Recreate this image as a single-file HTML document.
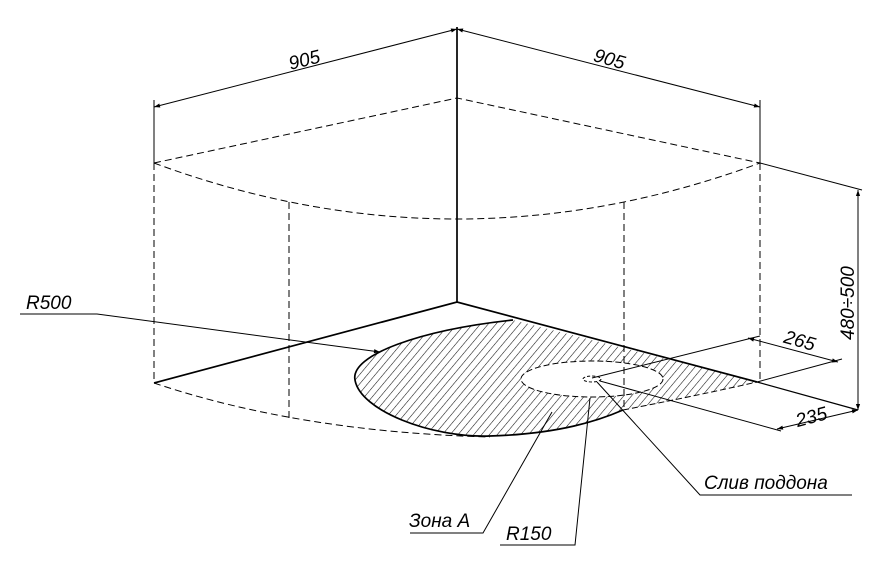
<!DOCTYPE html>
<html><head><meta charset="utf-8"><style>html,body{margin:0;padding:0;background:#fff}svg{display:block}</style></head><body>
<svg width="895" height="571" viewBox="0 0 895 571" xmlns="http://www.w3.org/2000/svg" font-family="Liberation Sans, sans-serif" font-style="italic">
<defs>
<pattern id="h" width="6" height="6" patternUnits="userSpaceOnUse" patternTransform="rotate(40)">
<line x1="0" y1="0" x2="0" y2="6" stroke="#111" stroke-width="1.1"/></pattern>
<marker id="a" viewBox="0 0 10 10" refX="10" refY="5" markerWidth="10" markerHeight="6" orient="auto-start-reverse" markerUnits="userSpaceOnUse"><path d="M0,1.5 L10,5 L0,8.5z" fill="#000"/></marker>
</defs>
<g fill="none" stroke="#000">
<path d="M513,320 C420,330 350,355 355,380 C360,410 430,438 490,436 C560,434 600,420 623,410 Q700,395 757,382 Z" fill="url(#h)" stroke="none"/>
<ellipse cx="592" cy="379" rx="71" ry="18" fill="#fff" stroke="#000" stroke-dasharray="6,3" stroke-width="1"/>
<ellipse cx="592" cy="379" rx="9" ry="3" stroke-dasharray="3,2" stroke-width="1"/>
<path d="M513,320 C420,330 350,355 355,380 C360,410 430,438 490,436 C560,434 600,420 623,410" stroke-width="1.7"/>
<path d="M623,410 Q700,395 757,382" stroke-dasharray="6,3"/>
<g stroke-dasharray="7,4" stroke-width="1">
<path d="M154,163 L457,98 L760,163"/>
<path d="M154,163 Q457,275 760,163"/>
<path d="M154,163 V383 M289,202 V418 M624,202 V408 M760,163 V383"/>
<path d="M154,383 Q300,432 490,437"/>
</g>
<line x1="457" y1="27" x2="457" y2="302" stroke-width="1.7"/>
<path d="M154,383 L457,302 L757,382" stroke-width="1.7"/>
<line x1="757" y1="382" x2="858" y2="410" stroke-width="1.2"/>
<g stroke-width="1">
<line x1="154" y1="100" x2="154" y2="163"/>
<line x1="760" y1="100" x2="760" y2="163"/>
<line x1="154" y1="107" x2="457" y2="29" marker-start="url(#a)" marker-end="url(#a)"/>
<line x1="457" y1="29" x2="760" y2="107" marker-start="url(#a)" marker-end="url(#a)"/>
<line x1="760" y1="163" x2="862" y2="190"/>
<line x1="858" y1="190" x2="858" y2="410" marker-start="url(#a)" marker-end="url(#a)"/>
<line x1="592" y1="378" x2="760" y2="336"/>
<line x1="757" y1="382" x2="842" y2="359"/>
<line x1="748" y1="338" x2="838" y2="362" marker-start="url(#a)" marker-end="url(#a)"/>
<line x1="600" y1="381" x2="781" y2="431"/>
<line x1="777" y1="429" x2="858" y2="410" marker-start="url(#a)" marker-end="url(#a)"/>
<path d="M20,314 H97 L380,352" marker-end="url(#a)"/>
<path d="M410,533 H483 L552,412"/>
<path d="M500,545 H575 L590,398"/>
<path d="M597,382 L700,495 H852"/>
</g>
</g>
<g font-size="19" fill="#000">
<text x="288" y="66" transform="rotate(-14 305 58)">905</text>
<text x="594" y="66" transform="rotate(16 612 58)">905</text>
<text x="854" y="340" transform="rotate(-90 854 340)">480÷500</text>
<text x="784" y="347" transform="rotate(16 800 340)">265</text>
<text x="795" y="423" transform="rotate(-15 812 415)">235</text>
<text x="26" y="309">R500</text>
<text x="409" y="527">Зона А</text>
<text x="506" y="540">R150</text>
<text x="704" y="489">Слив поддона</text>
</g>
</svg>
</body></html>
